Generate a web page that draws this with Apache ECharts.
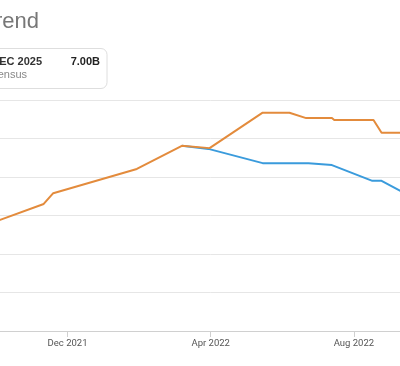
<!DOCTYPE html>
<html>
<head>
<meta charset="utf-8">
<script src="https://cdn.jsdelivr.net/npm/echarts@6/dist/echarts.min.js"></script>
<style>
html,body{margin:0;padding:0;background:#fff;width:400px;height:366px;overflow:hidden;position:relative;}
#c{position:absolute;left:-120px;top:0;width:640px;height:366px;}
</style>
</head>
<body>
<div id="c"></div>
<script>
// Estimate history (values in billions)
const orangeDates = ['2021-09-22','2021-10-04','2021-11-11','2021-11-19','2022-01-30','2022-03-07','2022-03-31','2022-05-15','2022-06-07','2022-06-21','2022-07-13','2022-07-15','2022-08-18','2022-08-25','2022-09-19'];
const orangeValues = [6.675,6.688,6.730,6.758,6.821,6.881,6.875,6.967,6.967,6.953,6.953,6.948,6.948,6.915,6.915];
const blueDates = ['2022-03-07','2022-03-30','2022-05-15','2022-06-23','2022-07-13','2022-08-17','2022-08-25','2022-09-19'];
const blueValues = [6.881,6.873,6.836,6.836,6.831,6.790,6.790,6.749];
// x ticks (month index, 0 = Dec 2021)
const tickValues = [-4,0,4,8,12];
const tickLabels = ['Aug 2021','Dec 2021','Apr 2022','Aug 2022','Dec 2022'];
const titleText = 'Revenue Estimate Trend';
const boxPeriod = 'FY DEC 2025';
const boxValue = '7.00B';
const boxSub = 'Consensus';

function monthIndex(s){
  const [y,m,d] = s.split('-').map(Number);
  const dim = new Date(y, m, 0).getDate();
  return (y-2021)*12 + (m-12) + (d-1)/dim;
}
const orangeData = orangeDates.map((d,i)=>[monthIndex(d), orangeValues[i]]);
const blueData = blueDates.map((d,i)=>[monthIndex(d), blueValues[i]]);

const OX = 120; // container offset
const chart = echarts.init(document.getElementById('c'), null, {renderer:'canvas'});
chart.setOption({
  animation:false,
  backgroundColor:'#fff',
  grid:{left:44.4, right:21.2, top:100, bottom:35, containLabel:false},
  xAxis:{
    type:'value', min:-4, max:12, interval:4,
    axisLine:{show:true, lineStyle:{color:'#d0d0d0'}},
    axisTick:{show:true, length:6, lineStyle:{color:'#d0d0d0'}},
    splitLine:{show:false},
    axisLabel:{
      margin:8, color:'#555', fontSize:9.5, fontFamily:'Roboto',
      formatter:(v)=>{const i=tickValues.indexOf(v); return i>=0?tickLabels[i]:'';}
    }
  },
  yAxis:{
    type:'value', min:6.4, max:7.0, interval:0.1,
    axisLine:{show:false}, axisTick:{show:false},
    axisLabel:{show:false},
    splitLine:{lineStyle:{color:'#e6e6e6'}}
  },
  series:[
    {type:'line', data:blueData, symbol:'none', lineStyle:{color:'#3a9bdc', width:2}, z:2},
    {type:'line', data:orangeData, symbol:'none', lineStyle:{color:'#e38b3c', width:2}, z:3}
  ],
  graphic:[
    {type:'text', x:OX+39, y:11, style:{text:titleText, align:'right', fill:'#777', font:'22px "Liberation Sans"'}},
    {type:'rect', shape:{x:OX-100, y:48.5, width:207, height:40, r:6}, style:{fill:'#fff', stroke:'#dedede', lineWidth:1}},
    {type:'text', x:OX+42, y:56, style:{text:boxPeriod, align:'right', fill:'#333', font:'bold 11px "Liberation Sans"'}},
    {type:'text', x:OX+100, y:56, style:{text:boxValue, align:'right', fill:'#222', font:'bold 11px "Liberation Sans"'}},
    {type:'text', x:OX+27, y:69.5, style:{text:boxSub, align:'right', fill:'#888', font:'11px "Liberation Sans"'}}
  ]
});
</script>
</body>
</html>
